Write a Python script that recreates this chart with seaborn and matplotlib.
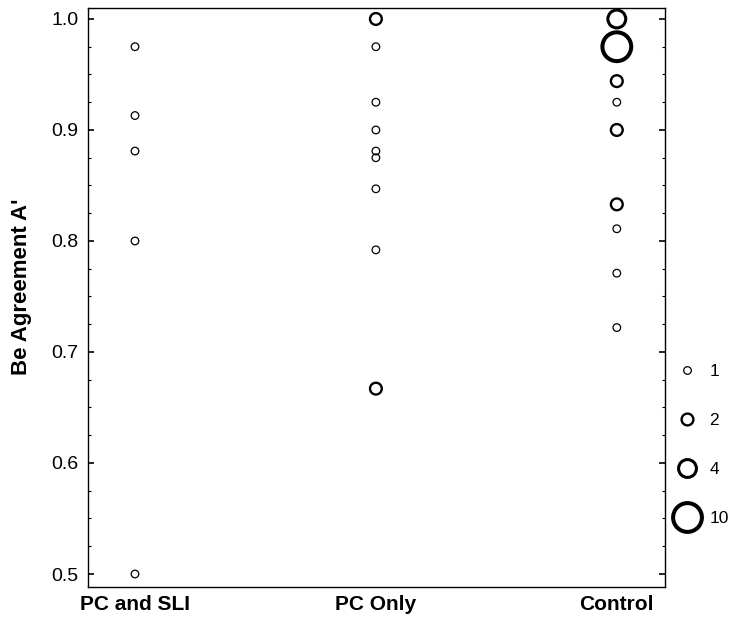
import numpy as np
import pandas as pd
import matplotlib
matplotlib.use("Agg")
import matplotlib.pyplot as plt
from matplotlib.lines import Line2D
from matplotlib.ticker import MultipleLocator
import seaborn as sns

sns.set_style("white")
plt.rcParams["font.family"] = ["Liberation Sans", "DejaVu Sans"]
plt.rcParams["text.color"] = "black"
plt.rcParams["axes.labelcolor"] = "black"
plt.rcParams["xtick.color"] = "black"
plt.rcParams["ytick.color"] = "black"

# data: score and number of children at that score
groups = ["PC and SLI", "PC Only", "Control"]

sli_scores = [0.975, 0.913, 0.881, 0.800, 0.500]
sli_counts = [1, 1, 1, 1, 1]

pconly_scores = [1.000, 0.975, 0.925, 0.900, 0.881, 0.875, 0.847, 0.792, 0.667]
pconly_counts = [2, 1, 1, 1, 1, 1, 1, 1, 2]

control_scores = [1.000, 0.975, 0.944, 0.925, 0.900, 0.833, 0.811, 0.771, 0.722]
control_counts = [4, 10, 2, 1, 2, 2, 1, 1, 1]

legend_counts = [1, 2, 4, 10]

# marker area (pt^2) and edge width for each count
size_map = {1: 30, 2: 72, 4: 165, 10: 430}
lw_map = {1: 0.9, 2: 1.7, 4: 2.2, 10: 2.9}

df = pd.DataFrame({
    "group": ["PC and SLI"] * len(sli_scores) + ["PC Only"] * len(pconly_scores)
             + ["Control"] * len(control_scores),
    "score": sli_scores + pconly_scores + control_scores,
    "count": sli_counts + pconly_counts + control_counts,
})
df["xpos"] = pd.Categorical(df["group"], categories=groups).codes

fig = plt.figure(figsize=(7.31, 6.23), dpi=100)
ax = fig.add_axes([0.1204, 0.0578, 0.7893, 0.9294])

sns.scatterplot(data=df, x="xpos", y="score", size="count", sizes=size_map,
                legend=False, ax=ax)
pts = ax.collections[0]
pts.set_facecolor("none")
pts.set_edgecolor("black")
pts.set_linewidths(df["count"].map(lw_map).to_numpy())

ax.set_xlim(-0.195, 2.2)
ax.set_xticks(range(len(groups)))
ax.set_xticklabels(groups, fontsize=15, fontweight="bold")
ax.yaxis.set_major_locator(MultipleLocator(0.1))
ax.yaxis.set_minor_locator(MultipleLocator(0.025))
ax.set_ylim(0.4883, 1.0099)
ax.yaxis.set_major_formatter(matplotlib.ticker.FormatStrFormatter("%.1f"))
ax.tick_params(axis="y", which="both", direction="in", left=True, right=True,
               labelsize=14, pad=7)
ax.tick_params(axis="y", which="major", length=4, width=1.2)
ax.tick_params(axis="y", which="minor", length=2.5, width=0.8)
ax.tick_params(axis="x", which="both", length=0, pad=6)
ax.set_xlabel("")
ax.set_ylabel("Be Agreement A'", fontsize=16, fontweight="bold")
ax.yaxis.set_label_coords(-0.097, 0.518)

for sp in ax.spines.values():
    sp.set_color("black")
    sp.set_linewidth(1.0)

handles = [Line2D([], [], linestyle="none", marker="o", markerfacecolor="none",
                  markeredgecolor="black", markersize=np.sqrt(size_map[c]),
                  markeredgewidth=lw_map[c]) for c in legend_counts]
ax.legend(handles, [str(c) for c in legend_counts], frameon=False,
          loc="center left", bbox_to_anchor=(1.0, 0.245), fontsize=12.5,
          labelspacing=1.95, handletextpad=0.4, handlelength=1.75,
          borderaxespad=0, borderpad=0.4)

fig.savefig("out.png", dpi=100)
